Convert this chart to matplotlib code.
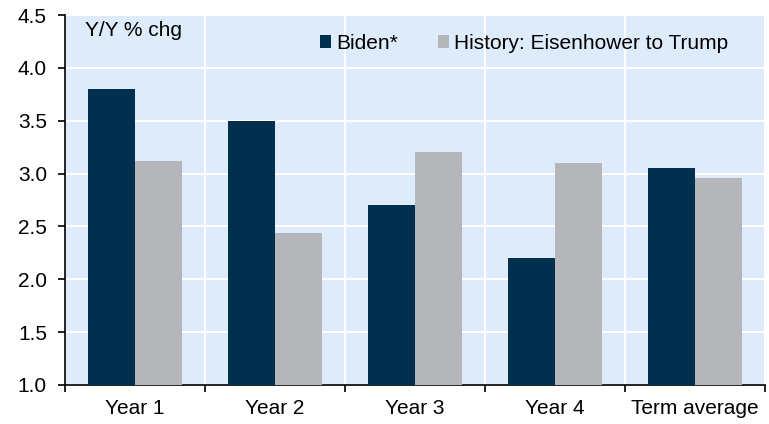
import numpy as np
import matplotlib.pyplot as plt
from matplotlib.ticker import FixedLocator, FormatStrFormatter

plt.rcParams["font.family"] = ["Liberation Sans", "DejaVu Sans"]
plt.rcParams["font.size"] = 15

# ----------------------------
# DATA: GDP growth by year of term
# ----------------------------
categories = ["Year 1", "Year 2", "Year 3", "Year 4", "Term average"]
biden = [3.8, 3.5, 2.7, 2.2, 3.05]
history = [3.12, 2.44, 3.2, 3.1, 2.96]

navy = "#00304d"
grey = "#b5b6ba"
bg = "#deebfb"

fig = plt.figure(figsize=(7.69, 4.24), dpi=100)
ax = fig.add_axes([0.0845, 0.092, 0.9103, 0.8726])
ax.set_facecolor(bg)

x = np.arange(len(categories))
w = 0.335
ax.bar(x - w / 2, biden, width=w, color=navy, label="Biden*", zorder=3)
ax.bar(x + w / 2, history, width=w, color=grey,
       label="History: Eisenhower to Trump", zorder=3)

ax.set_xlim(-0.5, len(categories) - 0.5)
ax.set_ylim(1.0, 4.5)
ax.set_yticks(np.arange(1.0, 4.51, 0.5))
ax.yaxis.set_major_formatter(FormatStrFormatter("%.1f"))

# labels at category centres, ticks at the boundaries
ax.set_xticks(x)
ax.set_xticklabels(categories)
ax.xaxis.set_minor_locator(FixedLocator(np.arange(-0.5, len(categories), 1.0)))
ax.tick_params(axis="x", which="major", length=0, pad=10, labelsize=15)
ax.tick_params(axis="x", which="minor", length=5, width=1.2, direction="out")
ax.tick_params(axis="y", length=5, width=1.2, direction="out", pad=8,
               labelsize=15)

ax.grid(axis="y", color="white", linewidth=1.5, zorder=1)
ax.grid(axis="x", which="minor", color="white", linewidth=1.5, zorder=1)
ax.set_axisbelow(True)

for side in ["top", "right"]:
    ax.spines[side].set_visible(False)
for side in ["left", "bottom"]:
    ax.spines[side].set_linewidth(1.2)
    ax.spines[side].set_color("black")

ax.text(0.028, 0.985, "Y/Y % chg", transform=ax.transAxes,
        ha="left", va="top", fontsize=15)

ax.legend(loc="center", bbox_to_anchor=(0.656, 0.924), ncol=2, frameon=False,
          handlelength=0.55, handleheight=0.55, handletextpad=0.25,
          columnspacing=1.9, fontsize=15, borderaxespad=0)

fig.savefig("out.png", dpi=100)
